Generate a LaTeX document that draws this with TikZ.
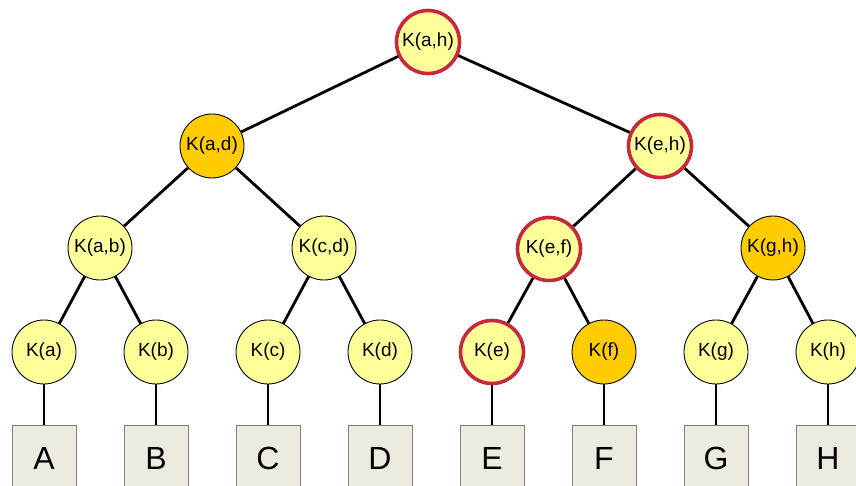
\documentclass[tikz,border=0pt]{standalone}
\usepackage{fontspec}
\setmainfont{Liberation Sans}
\definecolor{paleY}{HTML}{FFFF99}
\definecolor{gold}{HTML}{FFCC00}
\definecolor{redB}{HTML}{C8283C}
\definecolor{boxF}{HTML}{EDEBE0}
\definecolor{boxD}{HTML}{808080}
\tikzset{
  key/.style={circle, draw=black, line width=0.9pt, fill=paleY, minimum size=64pt, inner sep=0pt, font=\fontsize{19}{19}\selectfont},
  keyo/.style={key, fill=gold},
  keyr/.style={key, draw=redB, line width=3.6pt, minimum size=63pt},
  leafbox/.style={rectangle, draw=boxD, line width=0.8pt, fill=boxF, minimum width=64pt, minimum height=66pt, inner sep=0pt, font=\fontsize{32}{32}\selectfont},
  edge/.style={line width=2.8pt, black}
}
\begin{document}
\begin{tikzpicture}[x=1pt,y=1pt]
\useasboundingbox (0,0) rectangle (856,-486);
\clip (0,0) rectangle (856,-486);
% root
\node[keyr] (kah) at (428,-42) {K(a,h)};
% level 1
\node[keyo] (kad) at (212,-146) {K(a,d)};
\node[keyr] (keh) at (660,-146) {K(e,h)};
% level 2
\node[key]  (kab) at (100,-248) {K(a,b)};
\node[key]  (kcd) at (324,-248) {K(c,d)};
\node[keyr] (kef) at (549,-249) {K(e,f)};
\node[keyo] (kgh) at (773,-248) {K(g,h)};
% leaves
\node[key]  (ka) at (44,-352) {K(a)};
\node[key]  (kb) at (156,-352) {K(b)};
\node[key]  (kc) at (268,-352) {K(c)};
\node[key]  (kd) at (380,-352) {K(d)};
\node[keyr] (ke) at (492,-352) {K(e)};
\node[keyo] (kf) at (604,-352) {K(f)};
\node[key]  (kg) at (716,-352) {K(g)};
\node[key]  (kh) at (828,-352) {K(h)};
% boxes
\node[leafbox] (bA) at (44,-458) {A};
\node[leafbox] (bB) at (156,-458) {B};
\node[leafbox] (bC) at (268,-458) {C};
\node[leafbox] (bD) at (380,-458) {D};
\node[leafbox] (bE) at (492,-458) {E};
\node[leafbox] (bF) at (604,-458) {F};
\node[leafbox] (bG) at (716,-458) {G};
\node[leafbox] (bH) at (828,-458) {H};
% edges
\draw[edge] (kah) -- (kad);
\draw[edge] (kah) -- (keh);
\draw[edge] (kad) -- (kab);
\draw[edge] (kad) -- (kcd);
\draw[edge] (keh) -- (kef);
\draw[edge] (keh) -- (kgh);
\draw[edge] (kab) -- (ka);
\draw[edge] (kab) -- (kb);
\draw[edge] (kcd) -- (kc);
\draw[edge] (kcd) -- (kd);
\draw[edge] (kef) -- (ke);
\draw[edge] (kef) -- (kf);
\draw[edge] (kgh) -- (kg);
\draw[edge] (kgh) -- (kh);
\draw[edge] (ka) -- (bA);
\draw[edge] (kb) -- (bB);
\draw[edge] (kc) -- (bC);
\draw[edge] (kd) -- (bD);
\draw[edge] (ke) -- (bE);
\draw[edge] (kf) -- (bF);
\draw[edge] (kg) -- (bG);
\draw[edge] (kh) -- (bH);
\end{tikzpicture}
\end{document}
